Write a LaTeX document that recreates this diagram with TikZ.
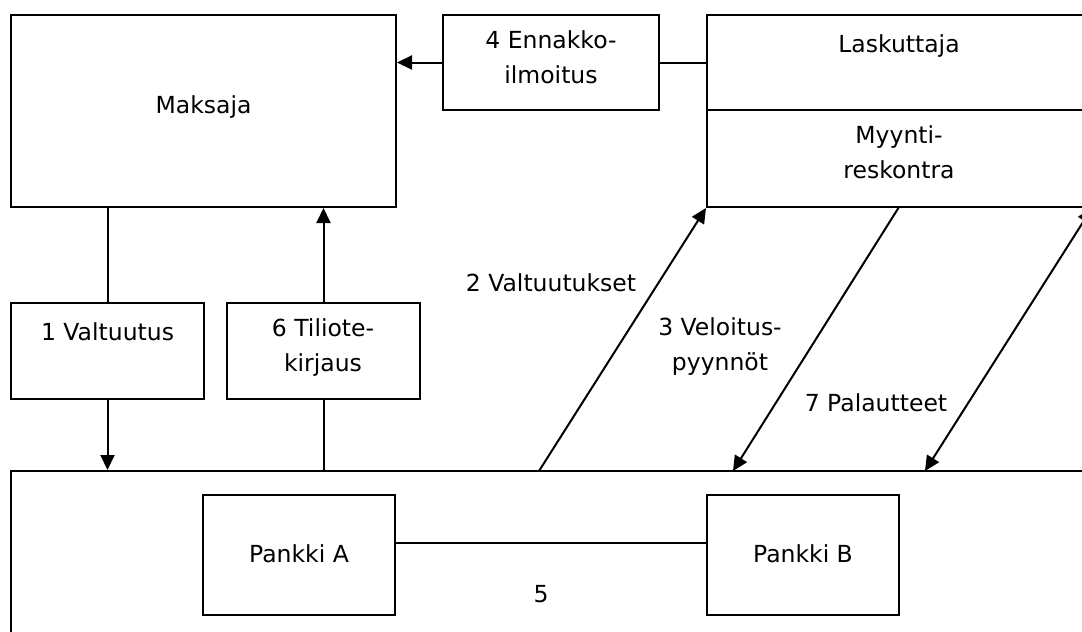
\documentclass[tikz,border=0pt]{standalone}
\usepackage{fontspec}
\setmainfont{DejaVu Sans}
\usetikzlibrary{arrows.meta}
\begin{document}
\begin{tikzpicture}[x=1pt,y=-1pt,
  box/.style={draw,line width=2pt,rectangle,inner sep=0pt},
  lbl/.style={font=\fontsize{23.5}{34.5}\selectfont,align=center,anchor=base,inner sep=0pt},
  conn/.style={line width=2pt},
  arr/.style={conn,-{Triangle[length=15pt,width=14pt]}},
  darr/.style={conn,{Triangle[length=15pt,width=14pt]}-{Triangle[length=15pt,width=14pt]}}]
\useasboundingbox (0,0) rectangle (1082,632);
\clip (0,0) rectangle (1082,632);

% boxes
\node[box,minimum width=385pt,minimum height=192pt] (maksaja) at (203.5,111) {};
\node[box,minimum width=216pt,minimum height=95pt] (enn) at (551,62.5) {};
\node[box,minimum width=384pt,minimum height=95pt] (lask) at (899,62.5) {};
\node[box,minimum width=384pt,minimum height=97pt] (resk) at (899,158.5) {};
\node[box,minimum width=193pt,minimum height=96pt] (valt) at (107.5,351) {};
\node[box,minimum width=193pt,minimum height=96pt] (tili) at (323.5,351) {};
\node[box,minimum width=1089pt,minimum height=179pt] (bank) at (555.5,560.5) {};
\node[box,minimum width=192pt,minimum height=120pt] (pa) at (299,555) {};
\node[box,minimum width=192pt,minimum height=120pt] (pb) at (803,555) {};

% texts (two-line labels are placed by the baseline of their last line)
\node[lbl] (tmaks) at (203.5,113) {Maksaja};
\node[lbl] (tlask) at (899,52) {Laskuttaja};
\node[lbl] (tresk) at (899,178) {Myynti-\\reskontra};
\node[lbl] (tenn) at (551,83) {4 Ennakko-\\ilmoitus};
\node[lbl] (tvalt) at (107.5,340) {1 Valtuutus};
\node[lbl] (ttili) at (323,371) {6 Tiliote-\\kirjaus};
\node[lbl] (t2) at (551,291) {2 Valtuutukset};
\node[lbl] (t3) at (720,370) {3 Veloitus-\\pyynnöt};
\node[lbl] (t7) at (876,411) {7 Palautteet};
\node[lbl] (tpa) at (299,562) {Pankki A};
\node[lbl] (tpb) at (803,562) {Pankki B};
\node[lbl] (t5) at (541,602) {5};

% connectors
\draw[conn] (valt.north) -- (valt.north |- maksaja.south);
\draw[arr] (valt.south) -- (valt.south |- bank.north);
\draw[conn] (tili.south) -- (tili.south |- bank.north);
\draw[arr] (tili.north) -- (tili.north |- maksaja.south);
\draw[arr] (enn.west) -- (enn.west -| maksaja.east);
\draw[conn] (enn.east) -- (enn.east -| lask.west);
\draw[conn] ([yshift=12pt]pa.east) -- ([yshift=12pt]pb.west);

\coordinate (v2) at (539,471);
\coordinate (v3s) at (899,207);
\coordinate (v3e) at (733,471);
\coordinate (v7) at (925,471);
\draw[arr] (v2) -- (resk.south west);
\draw[arr] (v3s) -- (v3e);
\draw[darr] (v7) -- (resk.south east);
\end{tikzpicture}
\end{document}
